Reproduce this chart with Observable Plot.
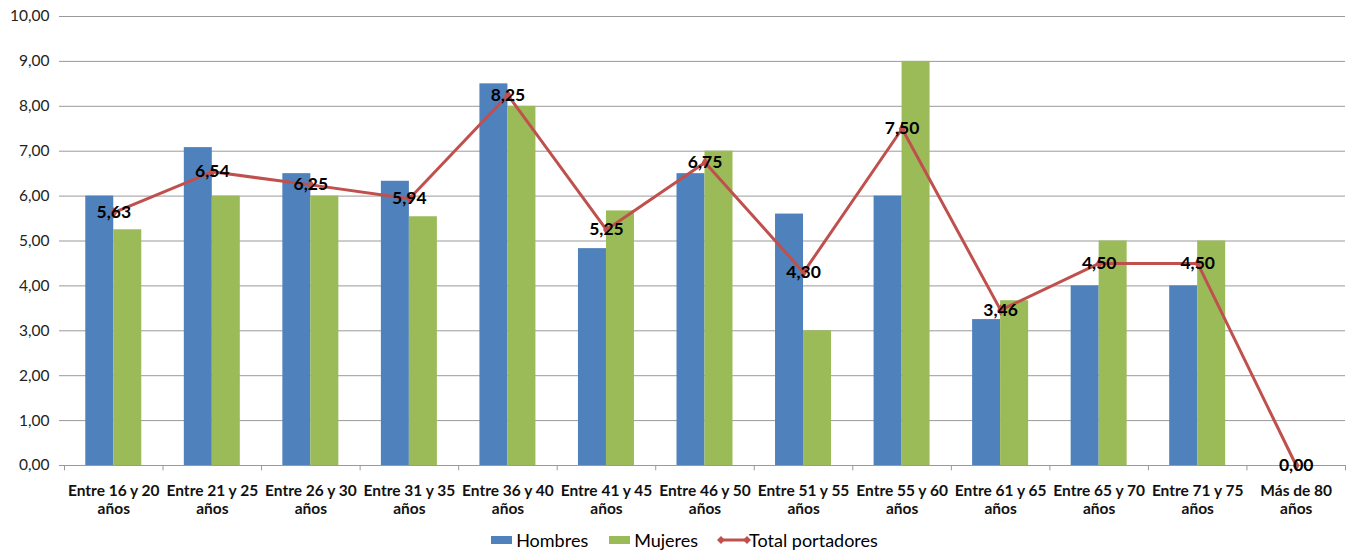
<!DOCTYPE html>
<html>
<head>
<meta charset="utf-8">
<script src="https://cdn.jsdelivr.net/npm/d3@7"></script>
<script src="https://cdn.jsdelivr.net/npm/@observablehq/plot@0.6"></script>
<style>
  html, body { margin: 0; padding: 0; background: #fff; }
  #chart { width: 1351px; }
  .legend { display: flex; justify-content: center; gap: 21px; font-family: Lato, "Noto Sans", sans-serif; font-size: 18px; color: #000; height: 28px; align-items: center; padding-left: 18px; padding-top: 6px; }
  .legend .item { display: flex; align-items: center; gap: 4px; }
  .legend .sw { width: 21px; height: 8px; display: inline-block; }
</style>
</head>
<body>
<div id="chart"></div>
<script>
const categories = ["Entre 16 y 20 años", "Entre 21 y 25 años", "Entre 26 y 30 años", "Entre 31 y 35 años", "Entre 36 y 40 años", "Entre 41 y 45 años", "Entre 46 y 50 años", "Entre 51 y 55 años", "Entre 55 y 60 años", "Entre 61 y 65 años", "Entre 65 y 70 años", "Entre 71 y 75 años", "Más de 80 años"];
const hombres = [6.00, 7.08, 6.50, 6.33, 8.50, 4.83, 6.50, 5.60, 6.00, 3.25, 4.00, 4.00, 0];
const mujeres = [5.25, 6.00, 6.00, 5.54, 8.00, 5.67, 7.00, 3.00, 9.00, 3.67, 5.00, 5.00, 0];
const total = [5.63, 6.54, 6.25, 5.94, 8.25, 5.25, 6.75, 4.30, 7.50, 3.46, 4.50, 4.50, 0.00];
const yTicks = [0, 1, 2, 3, 4, 5, 6, 7, 8, 9, 10];
const seriesNames = ["Hombres", "Mujeres", "Total portadores"];
const colors = ["#4F81BD", "#9BBB59", "#C0504D"];

const W = 1351, H = 520;
const mL = 64, mR = 6, mT = 16, mB = 55;
const step = (W - mL - mR) / categories.length;
const barW = 28;
const padInner = 1 - (2 * barW) / step;

const rows = categories.map((c, i) => ({cat: c, h: hombres[i], m: mujeres[i], t: total[i]}));
const fmt = d => d.toFixed(2).replace(".", ",");
const labelLines = c => { const k = c.lastIndexOf(" "); return c.slice(0, k) + "\n" + c.slice(k + 1); };
const lastCat = [categories[categories.length - 1]];

const font = "Lato, 'Noto Sans', sans-serif";
const axisGray = "#9a9a9a";

const plot = Plot.plot({
  width: W, height: H,
  marginLeft: mL, marginRight: mR, marginTop: mT, marginBottom: mB,
  style: {fontFamily: font, background: "#fff"},
  x: {type: "band", domain: categories, paddingInner: padInner, paddingOuter: padInner / 2, round: false, label: null},
  y: {domain: [0, 10], label: null},
  marks: [
    Plot.gridY(yTicks, {stroke: axisGray, strokeOpacity: 1, strokeWidth: 1}),
    Plot.ruleY([0], {stroke: axisGray}),
    Plot.ruleX(categories, {x: d => d, y1: 0, y2: -0.12, dx: -step / 2, stroke: axisGray}),
    Plot.ruleX(lastCat, {x: d => d, y1: 0, y2: -0.12, dx: step / 2, stroke: axisGray}),
    Plot.barY(rows, {x: "cat", y: "h", fill: colors[0], insetRight: barW}),
    Plot.barY(rows, {x: "cat", y: "m", fill: colors[1], insetLeft: barW}),
    Plot.line(rows, {x: "cat", y: "t", stroke: colors[2], strokeWidth: 3}),
    Plot.dot(rows, {x: "cat", y: "t", symbol: "diamond", r: 3.5, fill: colors[2]}),
    Plot.text(rows, {x: "cat", y: "t", text: d => fmt(d.t), fontWeight: "bold", fontSize: 17.5, fill: "#000"}),
    Plot.axisY(yTicks, {tickFormat: fmt, tickSize: 5, tickPadding: 10, stroke: axisGray, fontSize: 15.5, fill: "#222"}),
    Plot.axisX({tickSize: 0, tickPadding: 17, tickFormat: labelLines, fontWeight: "bold", fontSize: 15.5, fill: "#111", lineHeight: 1.2})
  ]
});
document.getElementById("chart").appendChild(plot);

const legend = document.createElement("div");
legend.className = "legend";
legend.innerHTML =
  `<span class="item"><span class="sw" style="background:${colors[0]}"></span>${seriesNames[0]}</span>` +
  `<span class="item"><span class="sw" style="background:${colors[1]}"></span>${seriesNames[1]}</span>` +
  `<span class="item" style="gap:0"><svg width="30" height="12" style="overflow:visible"><line x1="2" y1="6" x2="28" y2="6" stroke="${colors[2]}" stroke-width="3"/><path d="M2 2 L6 6 L2 10 L-2 6Z" fill="${colors[2]}"/><path d="M28 2 L32 6 L28 10 L24 6Z" fill="${colors[2]}"/></svg>${seriesNames[2]}</span>`;
document.getElementById("chart").appendChild(legend);
</script>
</body>
</html>
